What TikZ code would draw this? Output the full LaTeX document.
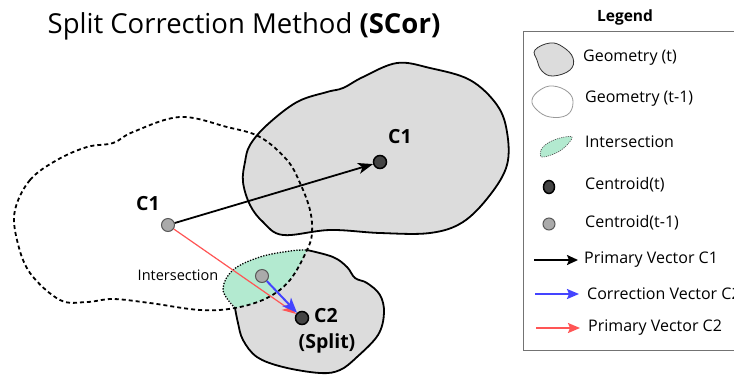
\documentclass[tikz,border=0pt]{standalone}
\usepackage{fontspec}
\setmainfont{Open Sans}
\usetikzlibrary{arrows.meta,shapes.geometric}
\definecolor{geomgray}{HTML}{DCDCDC}
\definecolor{intgreen}{HTML}{B3EAD0}
\definecolor{cdark}{HTML}{444444}
\definecolor{clight}{HTML}{AAAAAA}
\definecolor{vblue}{HTML}{4444FF}
\definecolor{vred}{HTML}{FF5555}
\tikzset{
  blobline/.style={line width=1.8pt, line join=round},
  dashline/.style={line width=1.8pt, dash pattern=on 4pt off 3pt},
  dotline/.style={line width=1.3pt, dash pattern=on 1.3pt off 1.5pt},
  centt/.style={circle, draw=black, line width=1.5pt, fill=cdark, minimum size=13pt, inner sep=0pt},
  centp/.style={circle, draw=black!65, line width=1pt, fill=clight, minimum size=13pt, inner sep=0pt},
  lbl/.style={font=\fontsize{19.5}{22}\selectfont\bfseries, inner sep=0pt},
  legtxt/.style={anchor=west, font=\fontsize{16}{18}\selectfont, inner sep=0pt},
  vecblack/.style={line width=1.8pt, -{Stealth[length=15pt,width=11pt,inset=4pt]}},
  vecblue/.style={vblue, line width=2pt, -{Stealth[length=15pt,width=12pt,inset=4pt]}},
  vecred/.style={vred, line width=1.2pt, -{Stealth[length=14pt,width=10pt,inset=4pt]}},
}
\begin{document}
\begin{tikzpicture}[x=1pt,y=-1pt]
\clip (0,0) rectangle (734,376);
\fill[white] (0,0) rectangle (734,376);

% title
\node[font=\fontsize{27.5}{32}\selectfont] (title) at (244,26) {Split Correction Method \textbf{(SCor)}};

% big blob (geometry t)
\filldraw[blobline, fill=geomgray] plot[smooth cycle, tension=0.6] coordinates {
 (245,162) (243,182) (250,205) (263,222) (283,235) (330,230) (380,233) (430,233)
 (463,222) (490,195) (507,165) (507,132) (497,105) (470,80) (430,68) (397,63)
 (363,77) (343,88) (327,92) (297,102) (267,125) (250,145)};

% small blob (geometry t) fill
\def\smallblob{(307,250) (333,257) (347,267) (355,278) (367,283) (380,295) (384,313) (378,335)
 (357,357) (340,370) (320,373) (283,367) (257,357) (243,340) (238,323) (235,308)
 (223,290) (233,270) (260,257) (290,251)}
\fill[geomgray] plot[smooth cycle, tension=0.6] coordinates {\smallblob};

% intersection fill
\begin{scope}
\clip plot[smooth cycle, tension=0.6] coordinates {\smallblob};
\fill[intgreen] plot[smooth cycle, tension=0.6] coordinates {
 (15,210) (30,180) (57,160) (87,147) (113,143) (133,132) (180,117) (227,127)
 (260,137) (287,160) (300,183) (310,210) (312,233) (307,250) (290,280) (267,298)
 (235,308) (200,310) (150,303) (113,299) (87,302) (60,300) (30,273) (17,240)};
\end{scope}

% small blob outline: solid and dotted parts
\draw[blobline] plot[smooth, tension=0.6] coordinates {
 (307,250) (333,257) (347,267) (355,278) (367,283) (380,295) (384,313) (378,335)
 (357,357) (340,370) (320,373) (283,367) (257,357) (243,340) (238,323) (235,308)};
\draw[dotline] plot[smooth, tension=0.6] coordinates {
 (235,308) (223,290) (233,270) (260,257) (290,251) (307,250)};

% dashed blob (geometry t-1)
\draw[dashline] plot[smooth cycle, tension=0.6] coordinates {
 (15,210) (30,180) (57,160) (87,147) (113,143) (133,132) (180,117) (227,127)
 (260,137) (287,160) (300,183) (310,210) (312,233) (307,250) (290,280) (267,298)
 (235,308) (200,310) (150,303) (113,299) (87,302) (60,300) (30,273) (17,240)};

% centroids
\node[centp] (c1p) at (168,225) {};
\node[centt] (c1t) at (380,162) {};
\node[centp] (ci) at (262,276) {};
\node[centt] (c2) at (302,318) {};

% labels
\node[lbl] (lc1p) at (148,204) {C1};
\node[lbl] (lc1t) at (400,137) {C1};
\node[lbl, anchor=west] (lc2) at (314,316) {C2};
\node[lbl] (lsplit) at (327,343) {(Split)};
\node[font=\fontsize{14.5}{16}\selectfont, inner sep=0pt] (lint) at (178,275) {Intersection};

% vectors
\draw[vecblack] (c1p) -- (c1t);
\draw[vecred] (c1p) -- (c2);
\draw[vecblue] (ci) -- (c2);

% legend
\node[font=\fontsize{15.5}{17}\selectfont\bfseries] (legtitle) at (625,17) {Legend};
\draw[black!55, line width=1pt] (523,31) rectangle (745,350);

\filldraw[fill=geomgray, draw=black!80, line width=0.8pt] plot[smooth cycle, tension=0.7] coordinates {
 (535,50) (550,43) (563,47) (573,58) (570,70) (553,76) (542,71) (537,60)};
\node[legtxt] (t1) at (583,58) {Geometry (t)};

\draw[black!40, line width=0.8pt, fill=white] plot[smooth cycle, tension=0.7] coordinates {
 (532,100) (540,90) (553,86) (568,92) (573,103) (567,115) (550,117) (537,110)};
\node[legtxt] (t2) at (585,99) {Geometry (t-1)};

\filldraw[fill=intgreen, draw=black!70, line width=0.6pt, dash pattern=on 1.2pt off 1pt] plot[smooth cycle, tension=0.6] coordinates {
 (542,157) (541,150) (548,143) (560,138) (572,137) (566,146) (556,153)};
\node[legtxt] (t3) at (585,142) {Intersection};

\node[ellipse, draw=black, line width=1.5pt, fill=cdark, minimum width=11pt, minimum height=13pt, inner sep=0pt] (lc) at (549,187) {};
\node[legtxt] (t4) at (585,185) {Centroid(t)};

\node[circle, draw=black!65, line width=1pt, fill=clight, minimum size=12pt, inner sep=0pt] (lp) at (549,224) {};
\node[legtxt] (t5) at (585,223) {Centroid(t-1)};

\coordinate (a1s) at (534,260); \coordinate (a1e) at (578,260);
\draw[line width=1.8pt, -{Stealth[length=11pt,width=10pt,inset=2pt]}] (a1s) -- (a1e);
\node[legtxt] (t6) at (584,260) {Primary Vector C1};

\coordinate (a2s) at (535,294); \coordinate (a2e) at (579,294);
\draw[vblue, line width=1.8pt, -{Stealth[length=12pt,width=10pt,inset=2pt]}] (a2s) -- (a2e);
\node[legtxt] (t7) at (587,294) {Correction Vector C2};

\coordinate (a3s) at (536,328); \coordinate (a3e) at (580,328);
\draw[vred, line width=1.8pt, -{Stealth[length=12pt,width=10pt,inset=2pt]}] (a3s) -- (a3e);
\node[legtxt] (t8) at (588,328) {Primary Vector C2};
\end{tikzpicture}
\end{document}
